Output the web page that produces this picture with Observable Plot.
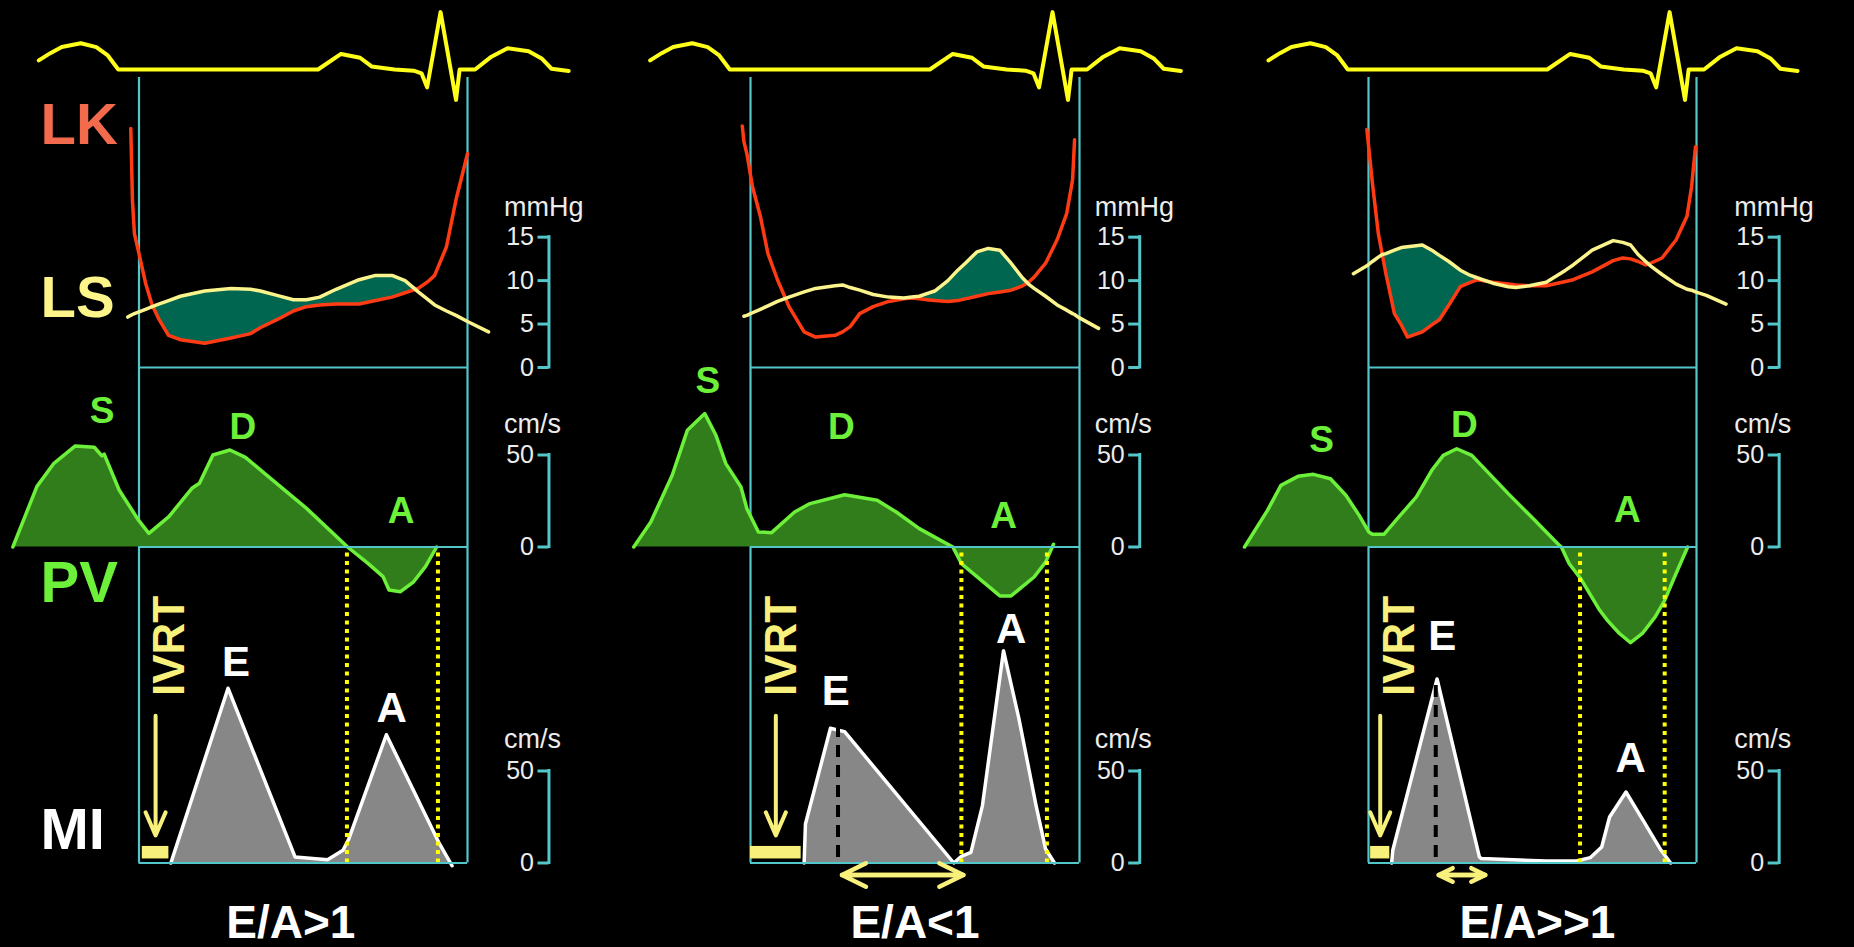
<!DOCTYPE html>
<html>
<head>
<meta charset="utf-8">
<script src="https://cdn.jsdelivr.net/npm/d3@7"></script>
<script src="https://cdn.jsdelivr.net/npm/@observablehq/plot@0.6"></script>
<style>
  html, body { margin: 0; padding: 0; background: #000; }
  #chart { position: relative; width: 1854px; height: 947px; background: #000; overflow: hidden; }
  #chart svg { position: absolute; left: 0; top: 0; }
</style>
</head>
<body>
<div id="chart"></div>
<script>
// ---------------------------------------------------------------------------
// Data. Time is expressed in % of the marked interval (box left = 0, right = 100).
// ---------------------------------------------------------------------------
const conditions = ["E/A>1", "E/A<1", "E/A>>1"];

// ECG, identical in all three panels (mV)
const ecgTime = [-30.5, -27, -23.5, -17.7, -13, -9.5, -6.3, 54.5, 61.5, 67.3, 70.8, 77.8, 83.6, 86, 87.7, 91.8, 96.5, 97.6, 102.3, 107, 112.2, 118.6, 122.7, 125.6, 130.8];
const ecgVolt = [0.24, 0.43, 0.59, 0.69, 0.59, 0.37, 0, 0, 0.41, 0.31, 0.08, 0, -0.03, -0.1, -0.47, 1.51, -0.8, 0, 0, 0.32, 0.56, 0.48, 0.28, 0.02, -0.04];

// Left ventricular (LK) and left atrial (LS) pressure, mmHg
const pressureTime = [
  [-3.4, -2.5, -2, -1.4, 0, 2, 4, 6, 9, 12.6, 20, 28, 34, 37, 42, 47, 51, 55, 60, 67, 72, 77, 81, 85, 88, 90, 93.6, 96.5, 100, 106.4],
  [-2.5, -2, -1.1, 0.6, 3, 5.3, 8.2, 11.7, 16.3, 19.8, 25.7, 28, 30.3, 33.2, 37.3, 42, 46.6, 49, 51.3, 53.6, 56, 60, 63, 65.3, 68.8, 72.3, 75.8, 79.2, 82.7, 84.5, 86.2, 89.7, 93.2, 96.1, 97.9, 98.5, 99.6, 105.8],
  [-4.6, -0.5, 1.2, 3, 4.2, 5.3, 7.9, 10, 11.9, 16.4, 19.3, 21.6, 24.5, 28, 30.5, 33.3, 37.9, 42.6, 44.9, 49, 54.2, 60.1, 62.4, 68.2, 74.6, 77.5, 79.9, 82.2, 84.5, 86, 89.5, 93.8, 97.1, 98.5, 99.7, 103, 109]
];
const lkPressure = [
  [null, 27.5, 19.3, 15.4, 13.1, 9.7, 7.2, 5.6, 3.7, 3.2, 2.8, 3.4, 3.9, 4.6, 5.5, 6.5, 7.0, 7.2, 7.3, 7.3, 7.7, 8.1, 8.6, 9.1, 9.9, 10.6, 13.9, 19.3, 24.6, null],
  [27.8, 26.0, 24.6, 20.8, 17.4, 13.1, 10.1, 7.0, 4.1, 3.5, 3.7, 4.1, 4.7, 6.2, 7.0, 7.6, 7.9, 8.0, 7.9, 7.8, 7.7, 7.6, 7.7, 7.9, 8.2, 8.5, 8.7, 8.9, 9.4, 9.8, 10.4, 12.0, 14.7, 17.7, 21.6, 26.2, null, null],
  [null, 27.4, 21.2, 15.4, 13.0, 10.8, 6.2, 4.9, 3.5, 4.1, 4.9, 5.5, 7.2, 9.3, 9.7, 10.1, 9.8, 9.6, 9.5, 9.4, 9.4, 9.9, 10.1, 11.0, 12.3, 12.6, 12.5, 12.2, 11.8, 12.0, 12.6, 14.7, 17.4, 20.8, 25.4, null, null]
];
const lsPressure = [
  [5.8, 6.0, 6.1, 6.2, 6.4, 6.7, 7.0, 7.3, 7.7, 8.2, 8.8, 9.1, 9.0, 8.8, 8.3, 7.8, 7.8, 8.1, 9.0, 10.1, 10.6, 10.6, 10.0, 8.7, 7.8, 7.2, 6.5, 6.0, 5.3, 4.1],
  [null, 5.9, 6.0, 6.3, 6.7, 7.1, 7.6, 8.1, 8.7, 9.1, 9.4, 9.5, 9.2, 8.9, 8.4, 8.1, 8.0, 8.1, 8.2, 8.5, 8.8, 10.0, 11.2, 12.0, 13.3, 13.7, 13.5, 12.0, 10.3, 9.6, 9.1, 8.2, 7.2, 6.6, 6.2, 6.1, 5.8, 4.5],
  [10.8, 11.7, 12.2, 12.7, 13.0, 13.1, 13.5, 13.8, 13.9, 14.1, 13.5, 12.9, 12.2, 11.2, 10.7, 10.3, 9.7, 9.3, 9.2, 9.4, 9.8, 11.2, 11.8, 13.5, 14.6, 14.4, 14.1, 13.0, 12.2, 11.7, 10.7, 9.6, 9.0, 8.9, 8.7, 8.3, 7.3]
];
// interval in which the atrioventricular gradient is shaded
const gradientWindow = [[4, 85], [51.3, 84.5], [4.2, 37.9]];

// Pulmonary venous flow (PV), cm/s
const pvTime = [
  [-38.4, -31.1, -25.9, -19.4, -13.6, -11.3, -10.6, -6.05, -0.2, 3.0, 9.1, 16.1, 18.4, 22.5, 27.7, 32.4, 39.4, 51.0, 63.5, 69.7, 74.3, 76.1, 79.6, 83.6, 87.2, 90.6],
  [-35.5, -30.3, -23.8, -19.2, -13.9, -10.5, -7.5, -2.9, -1.1, 2.4, 6.4, 13.4, 18.1, 28.6, 38.5, 44.3, 51.3, 61.5, 64.1, 75.8, 79.2, 86.2, 89.7, 92.1],
  [-37.8, -30.8, -26.7, -21.5, -16.8, -11.6, -6.9, -2.85, 0.07, 1.2, 4.7, 8.8, 14.6, 19.3, 22.8, 26.9, 31.5, 36.8, 42.6, 50.7, 57.7, 58.8, 61.2, 64.7, 70.5, 72.9, 76.5, 79.9, 83.5, 87.4, 90.3, 93.3, 97.3]
];
const pvVelocity = [
  [0, 32.8, 45.5, 54.9, 54.2, 49.5, 50.5, 31.0, 14.7, 7.4, 16.5, 31.9, 34.6, 50, 52.7, 48.7, 38.2, 21.0, 0, -8.9, -16.1, -23.4, -24.3, -18.9, -10.7, 0],
  [0, 13.6, 39, 63.4, 72.5, 60.7, 45.3, 32.6, 20.8, 8.2, 7.8, 19, 23.6, 28.4, 25.4, 19, 10, 0, -9, -26.6, -26.6, -16.3, -8.2, 1.5],
  [0, 19.9, 33.5, 38.4, 39.5, 37.1, 28.1, 17.2, 8.2, 6.9, 6.9, 15.4, 27.2, 41.7, 49.8, 53.4, 49.8, 39.9, 29, 14.5, 1.8, 0, -9.1, -17.2, -34.4, -40, -47, -52, -47, -38, -29, -16.3, 0]
];
const pvWaveNames = ["S", "D", "A"];
const pvWaveTime = [[-11.2, 31.6, 79.8], [-13, 27.6, 76.9], [-14.3, 29.2, 78.9]];
const pvWaveLabelVelocity = [[74, 65, 19.5], [90, 65, 17], [58, 66, 20]];

// Mitral inflow (MI), cm/s
const miTime = [
  [9.7, 27.1, 47.5, 57.4, 62.1, 63.9, 75.3, 91.2, 95.3],
  [16.3, 16.7, 24.3, 28.6, 61.8, 64.1, 67.0, 70.5, 76.9, 81.6, 86.8, 89.7, 92.4],
  [7.05, 7.4, 20.9, 33.8, 34.4, 54.2, 63.5, 67.6, 71.1, 73.5, 78.5, 83.4, 89.2, 92.1]
];
const miVelocity = [
  [0, 95, 3.3, 1.8, 6.9, 13.2, 69.7, 11.4, -1.5],
  [0, 21.2, 73.2, 71.4, 0, 3.6, 5.8, 31.2, 115.4, 78.3, 31.2, 7.6, 0],
  [0, 6.9, 100, 3.3, 2.4, 1.1, 1.1, 2.9, 8.7, 25, 38.6, 24.1, 6.9, 0]
];
const miWaveNames = ["E", "A"];
const miWaveTime = [[29.5, 76.9], [25.9, 79.2], [22.5, 79.9]];
const miWaveLabelVelocity = [[109, 84], [93, 127], [123, 57]];

const ivrtWindow = [[1, 9.1], [0, 15.4], [0.65, 6.5]];        // isovolumic relaxation time
const atrialWindow = [[63.3, 91], [64.1, 90.1], [64.5, 90.3]];  // atrial contraction
const decelWindow = [null, [27.8, 64.7], [21.4, 35.6]];         // E deceleration time
const ePeakTime = [null, 26.6, 20.5];

const pressureTicks = [0, 5, 10, 15];
const velocityTicks = [0, 50];

// ---------------------------------------------------------------------------
// Layout (pixels) and styling
// ---------------------------------------------------------------------------
const W = 1854, H = 947;
const boxLeft = [138.5, 750, 1368];
const boxRight = [467, 1079, 1696];
const axisAt = [124.8, 118.3, 125.2];      // time position of the unit axes
const titleAt = [46.2, 50, 51.5];
const boxTop = 77;
const ecgRow = {zero: 69, px: 38};
const pressureRow = {zero: 367, px: 8.69};
const pvRow = {zero: 546.5, px: 1.84};
const miRow = {zero: 862.5, px: 1.84};

const FONT = "'Liberation Sans', Arial, Helvetica, sans-serif";
const STYLE = `position:absolute;left:0;top:0;background:transparent;overflow:visible;font-family:${FONT};`;
const CYAN = "#52c6c9";
const AXIS_TEXT = "#ececec";
const ECG_YELLOW = "#ffff1a";
const LK_RED = "#ff3b14";
const LS_YELLOW = "#fbf38c";
const GRADIENT = "#00664f";
const PV_GREEN = "#6cf03a";
const PV_FILL = "#327d1b";
const MI_FILL = "#878787";
const PALE_YELLOW = "#f7f07a";
const DOT_YELLOW = "#ffff00";

const chart = document.getElementById("chart");

const yScale = row => ({domain: [0, 1], range: [row.zero, row.zero - row.px], axis: null, label: null});

function unitAxis(c, ticks, unit, unitLevel) {
  return [
    Plot.ruleX([axisAt[c]], {y1: 0, y2: d3.max(ticks), stroke: CYAN, strokeWidth: 3, strokeLinecap: "square"}),
    Plot.axisY(ticks, {x: axisAt[c], anchor: "left", tickSize: 11, tickPadding: 4, stroke: CYAN, strokeWidth: 3,
      fill: AXIS_TEXT, fontSize: 25, fontFamily: FONT, label: null}),
    Plot.text([unit], {x: axisAt[c] - 13.7, y: unitLevel, text: d => d, textAnchor: "start",
      fill: AXIS_TEXT, fontSize: 27, fontFamily: FONT})
  ];
}

function rowLabel(c, label, level, color) {
  if (c !== 0) return null;
  return Plot.text([label], {x: -30, y: level, text: d => d, textAnchor: "start", fill: color,
    fontSize: 58, fontWeight: "bold", fontFamily: FONT});
}

d3.range(3).forEach(c => {
  const base = {
    width: W, height: H, marginLeft: 0, marginRight: 0, style: STYLE,
    x: {domain: [0, 100], range: [boxLeft[c], boxRight[c]], axis: null}
  };

  const ecg = ecgTime.map((t, i) => ({t, v: ecgVolt[i]}));
  const pressure = pressureTime[c].map((t, i) => ({t, lk: lkPressure[c][i], ls: lsPressure[c][i]}));
  const pv = pvTime[c].map((t, i) => ({t, v: pvVelocity[c][i]}));
  const mi = miTime[c].map((t, i) => ({t, v: miVelocity[c][i]}));
  const pvWaves = pvWaveNames.map((name, i) => ({name, t: pvWaveTime[c][i], v: pvWaveLabelVelocity[c][i]}));
  const miWaves = miWaveNames.map((name, i) => ({name, t: miWaveTime[c][i], v: miWaveLabelVelocity[c][i]}));
  const [g0, g1] = gradientWindow[c];

  // ECG strip
  chart.append(Plot.plot({
    ...base, marginTop: 0, marginBottom: 0, y: yScale(ecgRow),
    marks: [
      Plot.line(ecg, {x: "t", y: "v", stroke: ECG_YELLOW, strokeWidth: 4, strokeLinejoin: "round"})
    ]
  }));

  // LK / LS pressures and the box outline
  chart.append(Plot.plot({
    ...base, marginTop: boxTop, marginBottom: H - miRow.zero, y: yScale(pressureRow),
    marks: [
      Plot.ruleX([0, 100], {stroke: CYAN, strokeWidth: 2.2}),
      Plot.areaY(pressure, {filter: d => d.t >= g0 && d.t <= g1, x: "t", y1: "lk",
        y2: d => Math.max(d.lk, d.ls), fill: GRADIENT}),
      Plot.line(pressure, {x: "t", y: "lk", stroke: LK_RED, strokeWidth: 3.5, strokeLinejoin: "round"}),
      Plot.line(pressure, {x: "t", y: "ls", stroke: LS_YELLOW, strokeWidth: 3.5, strokeLinejoin: "round"}),
      Plot.ruleY([0], {x1: 0, x2: 100, stroke: CYAN, strokeWidth: 2.2}),
      ...unitAxis(c, pressureTicks, "mmHg", 18.4),
      rowLabel(c, "LK", 27.8, "#f36b4d"),
      rowLabel(c, "LS", 7.9, "#fdf58a")
    ]
  }));

  // pulmonary venous flow
  chart.append(Plot.plot({
    ...base, marginTop: 0, marginBottom: 0, y: yScale(pvRow),
    marks: [
      Plot.areaY(pv, {x: "t", y: "v", fill: PV_FILL}),
      Plot.line(pv, {x: "t", y: "v", stroke: PV_GREEN, strokeWidth: 3.5, strokeLinejoin: "round"}),
      Plot.ruleY([0], {x1: 0, x2: 100, stroke: CYAN, strokeWidth: 2.2}),
      Plot.text(pvWaves, {x: "t", y: "v", text: "name", fill: PV_GREEN, fontSize: 37, fontWeight: "bold", fontFamily: FONT}),
      ...unitAxis(c, velocityTicks, "cm/s", 66.5),
      rowLabel(c, "PV", -19.6, PV_GREEN)
    ]
  }));

  // mitral inflow
  const dottedTop = (miRow.zero - pvRow.zero - 3) / miRow.px;
  const ivrt = ivrtWindow[c];
  const ivrtMid = d3.mean(ivrt);
  const decel = decelWindow[c];
  const ePeak = ePeakTime[c];
  // a double-headed arrow: one arrow in each direction over the whole interval
  const decelArrows = decel ? [[decel[0], decel[1]], [decel[1], decel[0]]] : [];
  chart.append(Plot.plot({
    ...base, marginTop: 0, marginBottom: 0, y: yScale(miRow),
    marks: [
      Plot.areaY(mi, {x: "t", y: "v", fill: MI_FILL}),
      Plot.line(mi, {x: "t", y: "v", stroke: "#ffffff", strokeWidth: 3.5, strokeLinejoin: "round"}),
      ePeak != null ? Plot.ruleX([ePeak], {y1: 3, y2: d3.max(mi, d => d.v) - 3, stroke: "#000", strokeWidth: 4, strokeDasharray: "12,8"}) : null,
      Plot.ruleX(atrialWindow[c], {y1: 0, y2: dottedTop, stroke: DOT_YELLOW, strokeWidth: 4, strokeDasharray: "4,4.5"}),
      Plot.ruleY([0], {x1: 0, x2: 100, stroke: CYAN, strokeWidth: 2.2}),
      Plot.rect([ivrt], {x1: d => d[0], x2: d => d[1], y1: 2.2, y2: 9, fill: PALE_YELLOW}),
      Plot.arrow([ivrtMid], {x1: d => d, x2: d => d, y1: 80, y2: 15, stroke: PALE_YELLOW, strokeWidth: 4,
        headLength: 9.4, headAngle: 47}),
      Plot.text(["IVRT"], {x: 9.5, y: 118, text: d => d, rotate: -90, fill: PALE_YELLOW, fontSize: 44,
        fontWeight: "bold", fontFamily: FONT}),
      Plot.arrow(decelArrows, {x1: d => d[0], x2: d => d[1], y1: -6.5, y2: -6.5, stroke: PALE_YELLOW,
        strokeWidth: 4.5, headLength: 8.9, headAngle: 52}),
      Plot.text(miWaves, {x: "t", y: "v", text: "name", fill: "#ffffff", fontSize: 42, fontWeight: "bold", fontFamily: FONT}),
      Plot.text([conditions[c]], {x: titleAt[c], y: -33, text: d => d, fill: "#ffffff", fontSize: 46,
        fontWeight: "bold", fontFamily: FONT}),
      ...unitAxis(c, velocityTicks, "cm/s", 67),
      rowLabel(c, "MI", 17.9, "#ffffff")
    ]
  }));
});
</script>
</body>
</html>
